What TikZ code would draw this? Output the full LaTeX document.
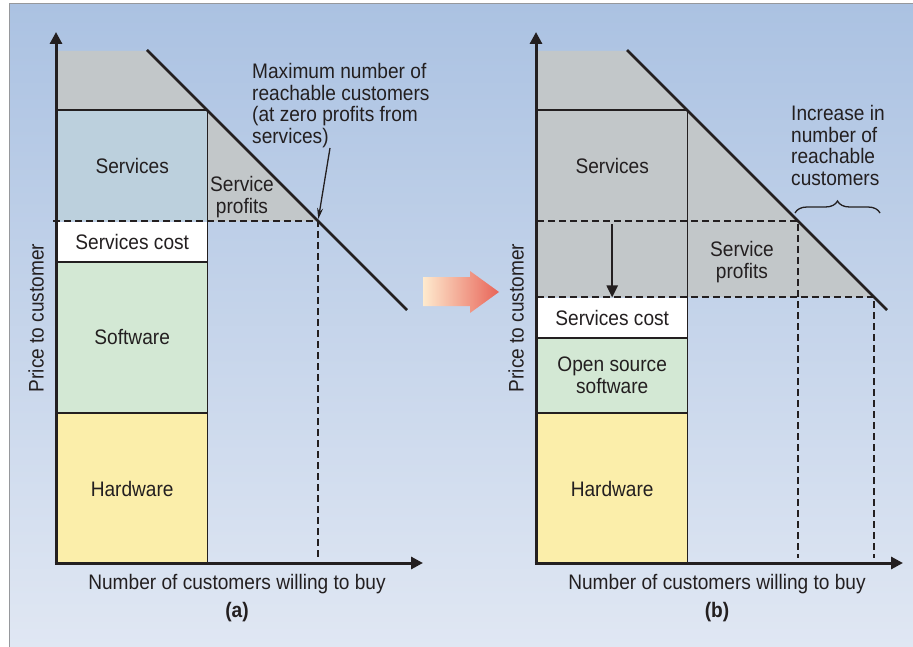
\documentclass[tikz,border=0pt]{standalone}
\usepackage{fontspec}
\setmainfont{Liberation Sans}[FakeStretch=0.91]
\usetikzlibrary{arrows.meta}
\usetikzlibrary{positioning}
\usetikzlibrary{decorations.pathreplacing}

\definecolor{ink}{RGB}{35,31,32}
\definecolor{bgtop}{RGB}{171,194,226}
\definecolor{bgbot}{RGB}{224,231,243}
\definecolor{frame}{RGB}{150,152,156}
\definecolor{greyfill}{RGB}{194,199,201}
\definecolor{svc}{RGB}{188,208,221}
\definecolor{soft}{RGB}{211,232,212}
\definecolor{hard}{RGB}{251,238,170}
\definecolor{peach}{RGB}{254,234,206}
\definecolor{salmon}{RGB}{232,100,88}

\begin{document}
\begin{tikzpicture}[x=1pt,y=-1pt,>={Triangle[length=12pt,width=12pt]},
  lbl/.style={text=ink,font=\fontsize{21}{21.7}\selectfont,inner sep=0pt},
  blk/.style={lbl,minimum width=150pt,anchor=north west,align=center},
  axis/.style={draw=ink,line width=3pt,->},
  edge/.style={draw=ink,line width=1.8pt},
  guide/.style={draw=ink,line width=1.3pt,dash pattern=on 7pt off 4pt},
  demand/.style={draw=ink,line width=2.5pt},
  pointer/.style={draw=ink,line width=1.3pt,-{Stealth[length=11pt,width=6pt]},shorten >=2pt}]

  \useasboundingbox (0,0) rectangle (913,647);
  \shade[top color=bgtop,bottom color=bgbot] (9,4) rectangle (913,647);
  \draw[frame,line width=1.5pt] (9.5,647) -- (9.5,3.5) -- (913,3.5);

  % (a) today
  \coordinate (oA) at (56,563);
  \coordinate (topA) at (147,50);
  \coordinate (endA) at (407,310);
  \coordinate (maxA) at (318,221);

  \node[blk,minimum height=111pt] (svcA) at (57,110) {};
  \fill[greyfill] (57,51) -- (148,51) -- (maxA) -- (svcA.south east) -- (svcA.north east) -- (svcA.north west) -- cycle;
  \node[blk,fill=svc,minimum height=111pt] at (svcA.north west) {Services};
  \node[blk,fill=white,minimum height=40pt,below=0pt of svcA] (costA) {Services cost};
  \node[blk,fill=soft,minimum height=151pt,below=0pt of costA] (softA) {Software};
  \node[blk,fill=hard,minimum height=151pt,below=0pt of softA] (hwA) {Hardware};

  \draw[edge] (svcA.north west) -- (svcA.north east) -- (hwA.south east);
  \draw[edge] (softA.north west) -- (softA.north east);
  \draw[edge] (hwA.north west) -- (hwA.north east);
  \draw[guide] (53,221) -- (maxA) -- (318,558);

  \draw[axis] (56,564.5) -- (56,32);
  \draw[axis] (54.5,563) -- (423,563);
  \draw[demand] (topA) -- (endA);

  \node[lbl,align=center] (profA) at (242,197) {Service\\profits};
  \node[lbl,align=left,anchor=north west] (noteA) at (252,63)
    {Maximum number of\\reachable customers\\(at zero profits from\\services)};
  \coordinate (tailA) at (330,148);
  \draw[pointer] (tailA) -- (maxA);

  \node[lbl,rotate=90] (yA) at (36,318) {Price to customer};
  \node[lbl] (xA) at (237,584) {Number of customers willing to buy};
  \node[lbl,font=\fontsize{21}{21.7}\selectfont\bfseries] (capA) at (237,612) {(a)};

  % shift arrow
  \shade[left color=peach,right color=salmon] (423,277) -- (470,277) -- (470,271)
    -- (499,292) -- (470,313) -- (470,306) -- (423,306) -- cycle;

  % (b) open source
  \coordinate (topB) at (627,50);
  \coordinate (endB) at (887,310);
  \coordinate (maxB) at (798,221);
  \coordinate (newB) at (874,297);

  \fill[greyfill] (537,51) -- (628,51) -- (newB) -- (537,297) -- cycle;
  \node[blk,minimum height=111pt] (svcB) at (537,110) {Services};
  \node[blk,fill=white,minimum height=40pt,below=76pt of svcB] (costB) {Services cost};
  \node[blk,fill=soft,minimum height=75pt,below=0pt of costB] (osB) {Open source\\software};
  \node[blk,fill=hard,minimum height=151pt,below=0pt of osB] (hwB) {Hardware};

  \draw[edge] (svcB.north west) -- (svcB.north east) -- (hwB.south east);
  \draw[edge] (osB.north west) -- (osB.north east);
  \draw[edge] (hwB.north west) -- (hwB.north east);
  \draw[guide] (537,221) -- (maxB) -- (798,558);
  \draw[guide] (537,297) -- (newB) -- (874,558);
  \draw[demand,->,>={Triangle[length=12pt,width=11pt]},shorten <=3pt] (svcB.south) -- (costB.north);

  \draw[axis] (536,564.5) -- (536,32);
  \draw[axis] (534.5,563) -- (903,563);
  \draw[demand] (topB) -- (endB);

  \node[lbl,align=center] (profB) at (742,262) {Service\\profits};
  \node[lbl,align=left,anchor=north west] (noteB) at (791,105)
    {Increase in\\number of\\reachable\\customers};
  \draw[ink,line width=1.3pt,decorate,decoration={brace,amplitude=12pt}] (795,213) -- (880,213);

  \node[lbl,rotate=90] (yB) at (516,318) {Price to customer};
  \node[lbl] (xB) at (717,584) {Number of customers willing to buy};
  \node[lbl,font=\fontsize{21}{21.7}\selectfont\bfseries] (capB) at (717,612) {(b)};
\end{tikzpicture}
\end{document}
